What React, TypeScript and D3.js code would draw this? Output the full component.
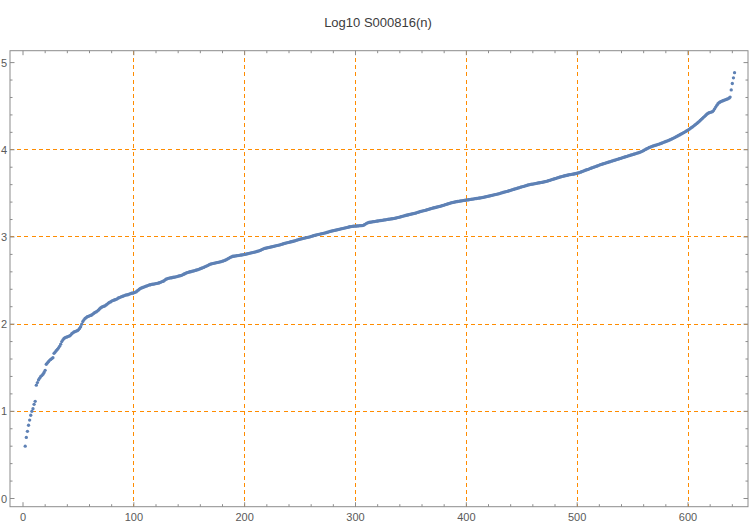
import React from "react";
import * as d3 from "d3";

const TITLE = "Log10 S000816(n)";
const FIRST_N = 2;
const VALUES: number[] = [
  0.60, 0.70, 0.77, 0.84, 0.90, 0.955, 1.00, 1.03, 1.08, 1.115,
  1.30, 1.33, 1.36, 1.38, 1.40, 1.41, 1.425, 1.445, 1.47, 1.54,
  1.555, 1.57, 1.585, 1.595, 1.605, 1.615, 1.665, 1.68, 1.695, 1.71,
  1.725, 1.745, 1.77, 1.80, 1.82, 1.835, 1.845, 1.85, 1.855, 1.86,
  1.865, 1.875, 1.89, 1.90, 1.91, 1.915, 1.92, 1.925, 1.935, 1.95,
  1.97, 2.00, 2.03, 2.05, 2.065, 2.075, 2.085, 2.09, 2.095, 2.10,
  2.105, 2.115, 2.125, 2.135, 2.14, 2.15, 2.16, 2.175, 2.185, 2.195,
  2.20, 2.205, 2.21, 2.22, 2.23, 2.24, 2.25, 2.255, 2.265, 2.27,
  2.275, 2.28, 2.285, 2.29, 2.30, 2.305, 2.31, 2.315, 2.32, 2.325,
  2.33, 2.335, 2.335, 2.34, 2.345, 2.35, 2.355, 2.355, 2.36, 2.365,
  2.37, 2.38, 2.39, 2.40, 2.41, 2.415, 2.42, 2.425, 2.43, 2.435,
  2.44, 2.445, 2.45, 2.452, 2.455, 2.458, 2.46, 2.462, 2.465, 2.468,
  2.47, 2.475, 2.48, 2.485, 2.49, 2.495, 2.505, 2.515, 2.52, 2.525,
  2.528, 2.53, 2.532, 2.535, 2.538, 2.54, 2.543, 2.546, 2.55, 2.553,
  2.556, 2.56, 2.566, 2.572, 2.578, 2.585, 2.59, 2.594, 2.598, 2.601,
  2.604, 2.607, 2.61, 2.614, 2.618, 2.622, 2.626, 2.631, 2.636, 2.641,
  2.646, 2.651, 2.657, 2.663, 2.669, 2.675, 2.682, 2.688, 2.692, 2.695,
  2.698, 2.70, 2.703, 2.706, 2.709, 2.712, 2.715, 2.718, 2.722, 2.726,
  2.731, 2.737, 2.744, 2.751, 2.758, 2.765, 2.772, 2.776, 2.779, 2.781,
  2.783, 2.785, 2.787, 2.789, 2.791, 2.793, 2.795, 2.797, 2.80, 2.803,
  2.806, 2.809, 2.812, 2.815, 2.818, 2.821, 2.824, 2.827, 2.83, 2.833,
  2.837, 2.841, 2.846, 2.852, 2.858, 2.864, 2.868, 2.871, 2.874, 2.877,
  2.88, 2.883, 2.886, 2.889, 2.892, 2.895, 2.898, 2.901, 2.904, 2.907,
  2.91, 2.914, 2.918, 2.922, 2.926, 2.93, 2.933, 2.936, 2.939, 2.942,
  2.945, 2.948, 2.951, 2.955, 2.959, 2.963, 2.967, 2.971, 2.975, 2.978,
  2.981, 2.984, 2.987, 2.99, 2.993, 2.996, 2.999, 3.002, 3.006, 3.01,
  3.014, 3.018, 3.021, 3.024, 3.027, 3.03, 3.033, 3.036, 3.039, 3.042,
  3.045, 3.048, 3.051, 3.055, 3.059, 3.063, 3.066, 3.069, 3.072, 3.075,
  3.078, 3.081, 3.084, 3.087, 3.09, 3.093, 3.096, 3.099, 3.102, 3.105,
  3.108, 3.111, 3.114, 3.117, 3.119, 3.121, 3.123, 3.124, 3.125, 3.126,
  3.127, 3.128, 3.129, 3.13, 3.131, 3.133, 3.14, 3.148, 3.156, 3.162,
  3.166, 3.169, 3.171, 3.173, 3.175, 3.177, 3.179, 3.181, 3.183, 3.185,
  3.187, 3.189, 3.191, 3.193, 3.195, 3.197, 3.199, 3.201, 3.203, 3.205,
  3.207, 3.209, 3.211, 3.213, 3.216, 3.219, 3.222, 3.225, 3.228, 3.232,
  3.236, 3.24, 3.243, 3.246, 3.249, 3.252, 3.255, 3.258, 3.261, 3.264,
  3.267, 3.27, 3.273, 3.277, 3.281, 3.285, 3.289, 3.293, 3.297, 3.30,
  3.303, 3.306, 3.309, 3.313, 3.317, 3.321, 3.325, 3.329, 3.332, 3.335,
  3.338, 3.341, 3.344, 3.347, 3.35, 3.354, 3.358, 3.362, 3.366, 3.37,
  3.374, 3.378, 3.382, 3.386, 3.39, 3.393, 3.396, 3.399, 3.402, 3.405,
  3.407, 3.409, 3.411, 3.413, 3.415, 3.417, 3.419, 3.421, 3.423, 3.425,
  3.427, 3.429, 3.431, 3.433, 3.435, 3.437, 3.439, 3.441, 3.443, 3.445,
  3.447, 3.449, 3.451, 3.453, 3.456, 3.459, 3.462, 3.465, 3.468, 3.471,
  3.474, 3.477, 3.48, 3.483, 3.486, 3.489, 3.492, 3.495, 3.498, 3.503,
  3.506, 3.51, 3.514, 3.518, 3.521, 3.524, 3.527, 3.531, 3.535, 3.539,
  3.543, 3.547, 3.551, 3.555, 3.559, 3.563, 3.567, 3.571, 3.575, 3.578,
  3.581, 3.585, 3.589, 3.593, 3.597, 3.60, 3.603, 3.605, 3.607, 3.609,
  3.611, 3.614, 3.617, 3.62, 3.622, 3.624, 3.626, 3.628, 3.631, 3.634,
  3.637, 3.641, 3.645, 3.649, 3.653, 3.657, 3.661, 3.665, 3.669, 3.673,
  3.677, 3.681, 3.685, 3.689, 3.693, 3.696, 3.699, 3.702, 3.705, 3.708,
  3.711, 3.714, 3.716, 3.718, 3.72, 3.722, 3.725, 3.728, 3.731, 3.735,
  3.739, 3.743, 3.748, 3.753, 3.758, 3.763, 3.768, 3.772, 3.776, 3.781,
  3.786, 3.791, 3.796, 3.80, 3.804, 3.809, 3.814, 3.819, 3.824, 3.829,
  3.833, 3.837, 3.841, 3.845, 3.849, 3.853, 3.857, 3.861, 3.865, 3.869,
  3.873, 3.877, 3.881, 3.885, 3.889, 3.893, 3.897, 3.901, 3.905, 3.909,
  3.913, 3.917, 3.921, 3.925, 3.929, 3.933, 3.937, 3.941, 3.945, 3.949,
  3.953, 3.957, 3.961, 3.965, 3.969, 3.974, 3.979, 3.985, 3.992, 3.999,
  4.006, 4.013, 4.02, 4.026, 4.031, 4.036, 4.041, 4.045, 4.049, 4.053,
  4.057, 4.061, 4.065, 4.07, 4.075, 4.08, 4.085, 4.09, 4.095, 4.10,
  4.105, 4.11, 4.116, 4.122, 4.128, 4.134, 4.14, 4.147, 4.154, 4.161,
  4.168, 4.175, 4.182, 4.189, 4.196, 4.203, 4.21, 4.218, 4.226, 4.235,
  4.244, 4.253, 4.262, 4.272, 4.282, 4.292, 4.302, 4.313, 4.324, 4.336,
  4.348, 4.36, 4.372, 4.384, 4.396, 4.408, 4.418, 4.425, 4.43, 4.433,
  4.437, 4.45, 4.47, 4.49, 4.51, 4.528, 4.54, 4.548, 4.555, 4.56,
  4.565, 4.57, 4.575, 4.58, 4.585, 4.592, 4.605, 4.687, 4.76, 4.825,
  4.885,
];

const X_MAJOR = [0, 100, 200, 300, 400, 500, 600];
const X_GRID = [100, 200, 300, 400, 500, 600];
const Y_MAJOR = [0, 1, 2, 3, 4, 5];
const Y_GRID = [1, 2, 3, 4];

const W = 750;
const H = 525;
const FRAME = { left: 10, right: 748, top: 50.7, bottom: 506.7 };

export default function App() {
  const x = d3.scaleLinear().domain([0, 600]).range([23, 688]);
  const y = d3.scaleLinear().domain([0, 5]).range([498.5, 62.6]);
  const xLo = x.invert(FRAME.left);
  const xHi = x.invert(FRAME.right);
  const yLo = y.invert(FRAME.bottom);
  const yHi = y.invert(FRAME.top);
  const xMinor = d3.range(Math.ceil(xLo / 20) * 20, xHi, 20).filter((v) => Math.abs(v % 100) > 1e-6);
  const yMinor = d3
    .range(Math.ceil(yLo / 0.2) * 0.2, yHi, 0.2)
    .map((v) => Math.round(v * 10) / 10)
    .filter((v) => Math.abs(v - Math.round(v)) > 1e-6);

  const frameColor = "#8c8c8c";
  const labelColor = "#5a5a5a";
  const gridColor = "#ff8c00";
  const font = "'Liberation Sans', Arial, sans-serif";

  const points = VALUES.map((v, i) => ({ n: FIRST_N + i, v }));

  return (
    <svg width={W} height={H} style={{ position: "absolute", left: 0, top: 0, background: "#fff" }}>
      <rect x={0} y={0} width={W} height={H} fill="#fff" />
      <text x={378} y={27} textAnchor="middle" fontFamily={font} fontSize={13} fill="#3c3c3c">
        {TITLE}
      </text>
      {X_GRID.map((g) => (
        <line key={"gx" + g} x1={x(g)} x2={x(g)} y1={FRAME.top} y2={FRAME.bottom}
          stroke={gridColor} strokeWidth={1} strokeDasharray="4,3.2" shapeRendering="crispEdges" />
      ))}
      {Y_GRID.map((g) => (
        <line key={"gy" + g} x1={FRAME.left} x2={FRAME.right} y1={y(g)} y2={y(g)}
          stroke={gridColor} strokeWidth={1} strokeDasharray="4,3.2" shapeRendering="crispEdges" />
      ))}
      {points.map((p) => (
        <circle key={p.n} cx={x(p.n)} cy={y(p.v)} r={1.65} fill="#5e81b5" />
      ))}
      <rect x={FRAME.left} y={FRAME.top} width={FRAME.right - FRAME.left} height={FRAME.bottom - FRAME.top}
        fill="none" stroke={frameColor} strokeWidth={1} />
      {X_MAJOR.map((t) => (
        <g key={"xt" + t}>
          <line x1={x(t)} x2={x(t)} y1={FRAME.bottom} y2={FRAME.bottom - 4.5} stroke={frameColor} />
          <line x1={x(t)} x2={x(t)} y1={FRAME.top} y2={FRAME.top + 4.5} stroke={frameColor} />
          <text x={x(t)} y={FRAME.bottom + 14} textAnchor="middle" fontFamily={font} fontSize={11} fill={labelColor}>
            {t}
          </text>
        </g>
      ))}
      {xMinor.map((t) => (
        <g key={"xm" + t}>
          <line x1={x(t)} x2={x(t)} y1={FRAME.bottom} y2={FRAME.bottom - 2.5} stroke={frameColor} />
          <line x1={x(t)} x2={x(t)} y1={FRAME.top} y2={FRAME.top + 2.5} stroke={frameColor} />
        </g>
      ))}
      {Y_MAJOR.map((t) => (
        <g key={"yt" + t}>
          <line x1={FRAME.left} x2={FRAME.left + 4.5} y1={y(t)} y2={y(t)} stroke={frameColor} />
          <line x1={FRAME.right} x2={FRAME.right - 4.5} y1={y(t)} y2={y(t)} stroke={frameColor} />
          <text x={FRAME.left - 3} y={y(t) + 4} textAnchor="end" fontFamily={font} fontSize={11} fill={labelColor}>
            {t}
          </text>
        </g>
      ))}
      {yMinor.map((t) => (
        <g key={"ym" + t}>
          <line x1={FRAME.left} x2={FRAME.left + 2.5} y1={y(t)} y2={y(t)} stroke={frameColor} />
          <line x1={FRAME.right} x2={FRAME.right - 2.5} y1={y(t)} y2={y(t)} stroke={frameColor} />
        </g>
      ))}
    </svg>
  );
}
